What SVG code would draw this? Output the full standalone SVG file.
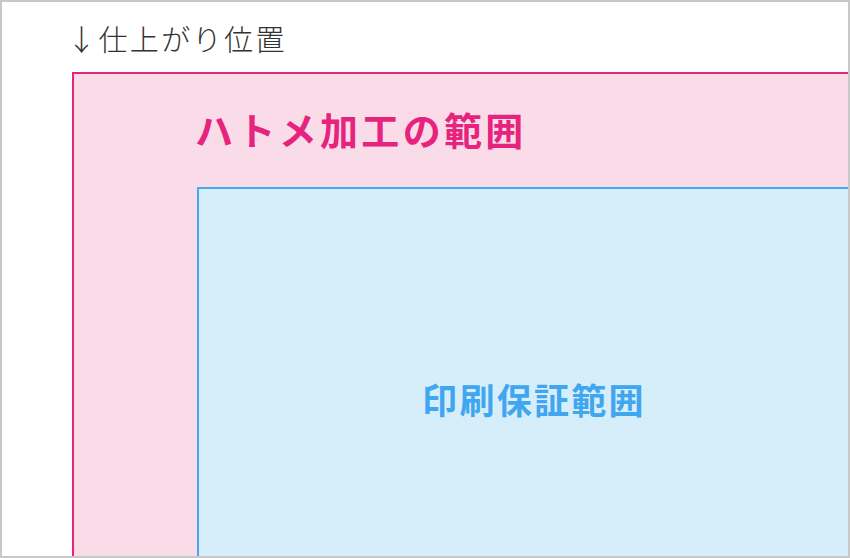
<svg xmlns="http://www.w3.org/2000/svg" width="850" height="558" viewBox="0 0 850 558">
<style>
.jp{font-family:"Noto Sans CJK JP","Noto Sans CJK SC",sans-serif}
.lbl{font-size:29px;font-weight:300;fill:#333333;letter-spacing:2.4px}
.pk{font-size:38px;font-weight:bold;fill:#e6247e;letter-spacing:3.3px}
.bl{font-size:35px;font-weight:bold;fill:#3fa6ef;letter-spacing:2.3px}
</style>
<rect x="0" y="0" width="850" height="558" fill="#ffffff"/>
<g id="trim-label"><text class="jp lbl" x="67" y="51">↓仕上がり位置</text></g>
<g id="eyelet-area">
<rect x="73" y="73" width="800" height="500" fill="#fadce9" stroke="#e6247e" stroke-width="2"/>
<text class="jp pk" x="195" y="145">ハトメ加工の範囲</text>
</g>
<g id="print-area">
<rect x="198" y="188" width="700" height="400" fill="#d6eefa" stroke="#4aa8f0" stroke-width="2"/>
<text class="jp bl" x="534" y="414" text-anchor="middle">印刷保証範囲</text>
</g>
<g id="connectors"></g>
<rect x="1" y="1" width="848" height="556" fill="none" stroke="#c8c8c8" stroke-width="2"/>
</svg>
